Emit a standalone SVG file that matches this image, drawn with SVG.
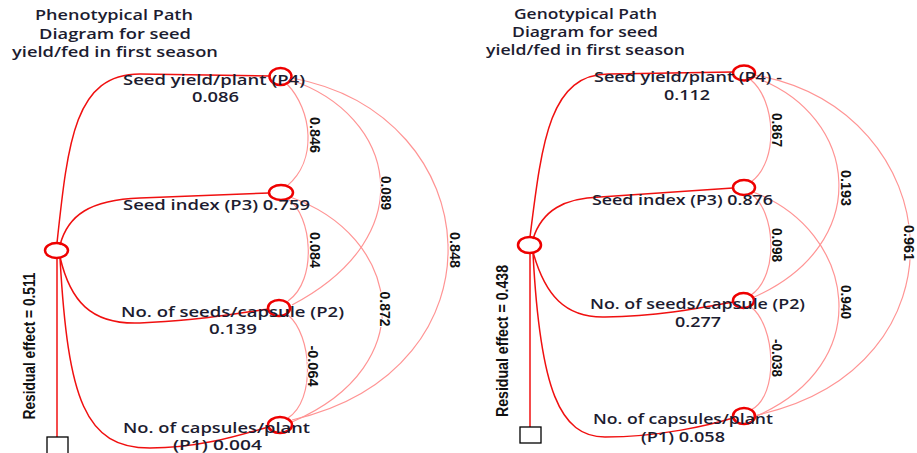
<svg xmlns="http://www.w3.org/2000/svg" width="917" height="453" viewBox="0 0 917 453">
<style>
.t{font-family:"Open Sans","Liberation Sans",sans-serif;font-size:13.5px;font-weight:600;fill:#1c1c30;text-anchor:middle}
.r{font-family:"Liberation Sans",Arial,sans-serif;font-size:15px;font-weight:bold;fill:#111;text-anchor:middle;stroke:#fff;stroke-width:2px;paint-order:stroke}
.res{font-family:"Liberation Sans",Arial,sans-serif;font-size:17px;font-weight:bold;fill:#111;text-anchor:middle}
.node{fill:none;stroke:#ee0000;stroke-width:2.5}
.path{fill:none;stroke:#f01010;stroke-width:1.5}
.arc{fill:none;stroke:#ff9494;stroke-width:1.2}
.box{fill:#fff;stroke:#000;stroke-width:1.3}
</style>

<!-- Titles -->
<g id="title-left">
<text class="t" x="114" y="20" textLength="158" lengthAdjust="spacingAndGlyphs">Phenotypical Path</text>
<text class="t" x="115" y="38.5" textLength="152" lengthAdjust="spacingAndGlyphs">Diagram for seed</text>
<text class="t" x="115" y="57" textLength="206" lengthAdjust="spacingAndGlyphs">yield/fed in first season</text>
</g>
<g id="title-right">
<text class="t" x="585.5" y="18.5" textLength="143" lengthAdjust="spacingAndGlyphs">Genotypical Path</text>
<text class="t" x="585" y="37" textLength="146" lengthAdjust="spacingAndGlyphs">Diagram for seed</text>
<text class="t" x="585.5" y="55" textLength="199" lengthAdjust="spacingAndGlyphs">yield/fed in first season</text>
</g>

<!-- Connectors -->
<g id="connectors">
<!-- left panel: direct paths -->
<path class="path" d="M57,243 C68,140 75,74 140,74 L269,76"/>
<path class="path" d="M60,245 C68,215 90,200 140,198 L269,193"/>
<path class="path" d="M60,257 C70,300 90,325 140,323 C200,321 240,313 268,309"/>
<path class="path" d="M60,258 C68,400 85,448 150,448 C200,448 240,435 268,427"/>
<path class="path" d="M57,258 L57,437"/>
<!-- left panel: correlation arcs -->
<path class="arc" d="M287,84 C312,110 318,160 287,186"/>
<path class="arc" d="M288,199 C312,215 318,280 288,301"/>
<path class="arc" d="M288,315 C312,335 316,400 288,418"/>
<path class="arc" d="M291,80 C395,115 425,235 292,305"/>
<path class="arc" d="M290,197 C400,235 425,365 292,422"/>
<path class="arc" d="M292,78 C490,115 510,370 292,420"/>
<!-- right panel: direct paths -->
<path class="path" d="M530,237 C542,140 550,73 610,74 L733,72"/>
<path class="path" d="M533,239 C542,210 565,198 600,197 L733,188"/>
<path class="path" d="M533,252 C545,295 565,318 605,317 C660,316 700,308 733,302"/>
<path class="path" d="M533,253 C540,390 560,437 605,437 C660,437 710,425 733,418"/>
<path class="path" d="M530,253 L530,427"/>
<!-- right panel: correlation arcs -->
<path class="arc" d="M751,80 C775,100 780,160 751,182"/>
<path class="arc" d="M751,194 C775,210 780,275 751,295"/>
<path class="arc" d="M751,307 C775,325 780,395 751,410"/>
<path class="arc" d="M754,77 C860,115 875,245 752,298"/>
<path class="arc" d="M753,192 C855,230 880,365 752,418"/>
<path class="arc" d="M755,75 C950,110 975,370 753,416"/>
</g>

<!-- Left panel nodes -->
<g id="L-hub"><ellipse class="node" cx="56.5" cy="250.5" rx="11.5" ry="7.5"/></g>
<g id="L-residual">
<rect class="box" x="47" y="437" width="21" height="18"/>
<text class="res" transform="translate(35,346) rotate(-90)" x="0" y="0" textLength="147" lengthAdjust="spacingAndGlyphs">Residual effect = 0.511</text>
</g>
<g id="L-P4">
<ellipse class="node" cx="280.5" cy="76.5" rx="11" ry="8.5"/>
<text class="t" x="214" y="85" textLength="182" lengthAdjust="spacingAndGlyphs">Seed yield/plant (P4)</text>
<text class="t" x="215.5" y="102" textLength="47" lengthAdjust="spacingAndGlyphs">0.086</text>
</g>
<g id="L-P3">
<ellipse class="node" cx="281" cy="192.5" rx="12" ry="7.5"/>
<text class="t" x="216.5" y="210" textLength="187" lengthAdjust="spacingAndGlyphs">Seed index (P3) 0.759</text>
</g>
<g id="L-P2">
<ellipse class="node" cx="279" cy="308" rx="11" ry="8"/>
<text class="t" x="232.5" y="317" textLength="223" lengthAdjust="spacingAndGlyphs">No. of seeds/capsule (P2)</text>
<text class="t" x="233" y="334" textLength="48" lengthAdjust="spacingAndGlyphs">0.139</text>
</g>
<g id="L-P1">
<ellipse class="node" cx="280" cy="425" rx="12" ry="8"/>
<text class="t" x="216.5" y="433" textLength="187" lengthAdjust="spacingAndGlyphs">No. of capsules/plant</text>
<text class="t" x="217.5" y="450" textLength="89" lengthAdjust="spacingAndGlyphs">(P1) 0.004</text>
</g>

<!-- Left arc labels -->
<g id="L-arc-labels">
<text class="r" transform="translate(315,135) rotate(90)" x="0" y="5.5" textLength="36" lengthAdjust="spacingAndGlyphs">0.846</text>
<text class="r" transform="translate(315,250) rotate(90)" x="0" y="5.5" textLength="36" lengthAdjust="spacingAndGlyphs">0.084</text>
<text class="r" transform="translate(313,366) rotate(90)" x="0" y="5.5" textLength="41" lengthAdjust="spacingAndGlyphs">-0.064</text>
<text class="r" transform="translate(386,193) rotate(90)" x="0" y="5.5" textLength="34" lengthAdjust="spacingAndGlyphs">0.089</text>
<text class="r" transform="translate(385,309) rotate(90)" x="0" y="5.5" textLength="35" lengthAdjust="spacingAndGlyphs">0.872</text>
<text class="r" transform="translate(455,250) rotate(90)" x="0" y="5.5" textLength="36" lengthAdjust="spacingAndGlyphs">0.848</text>
</g>

<!-- Right panel nodes -->
<g id="R-hub"><ellipse class="node" cx="529.5" cy="245" rx="11.5" ry="8"/></g>
<g id="R-residual">
<rect class="box" x="520" y="427" width="21" height="16"/>
<text class="res" transform="translate(508,341) rotate(-90)" x="0" y="0" textLength="152" lengthAdjust="spacingAndGlyphs">Residual effect = 0.438</text>
</g>
<g id="R-P4">
<ellipse class="node" cx="744" cy="73" rx="11" ry="7.5"/>
<text class="t" x="688" y="82" textLength="188" lengthAdjust="spacingAndGlyphs">Seed yield/plant (P4) -</text>
<text class="t" x="687" y="99.5" textLength="46" lengthAdjust="spacingAndGlyphs">0.112</text>
</g>
<g id="R-P3">
<ellipse class="node" cx="744" cy="187.5" rx="11" ry="7.5"/>
<text class="t" x="682.5" y="205" textLength="181" lengthAdjust="spacingAndGlyphs">Seed index (P3) 0.876</text>
</g>
<g id="R-P2">
<ellipse class="node" cx="743.5" cy="300.5" rx="10.5" ry="7.5"/>
<text class="t" x="697.5" y="309" textLength="215" lengthAdjust="spacingAndGlyphs">No. of seeds/capsule (P2)</text>
<text class="t" x="698" y="327" textLength="46" lengthAdjust="spacingAndGlyphs">0.277</text>
</g>
<g id="R-P1">
<ellipse class="node" cx="744" cy="416" rx="11" ry="8"/>
<text class="t" x="683" y="424" textLength="180" lengthAdjust="spacingAndGlyphs">No. of capsules/plant</text>
<text class="t" x="683" y="442" textLength="84" lengthAdjust="spacingAndGlyphs">(P1) 0.058</text>
</g>

<!-- Right arc labels -->
<g id="R-arc-labels">
<text class="r" transform="translate(777,130) rotate(90)" x="0" y="5.5" textLength="34" lengthAdjust="spacingAndGlyphs">0.867</text>
<text class="r" transform="translate(846,188) rotate(90)" x="0" y="5.5" textLength="36" lengthAdjust="spacingAndGlyphs">0.193</text>
<text class="r" transform="translate(909,243) rotate(90)" x="0" y="5" textLength="36" lengthAdjust="spacingAndGlyphs">0.961</text>
<text class="r" transform="translate(777,245) rotate(90)" x="0" y="5.5" textLength="34" lengthAdjust="spacingAndGlyphs">0.098</text>
<text class="r" transform="translate(846,302) rotate(90)" x="0" y="5.5" textLength="34" lengthAdjust="spacingAndGlyphs">0.940</text>
<text class="r" transform="translate(777,358) rotate(90)" x="0" y="5.5" textLength="38" lengthAdjust="spacingAndGlyphs">-0.038</text>
</g>
</svg>
